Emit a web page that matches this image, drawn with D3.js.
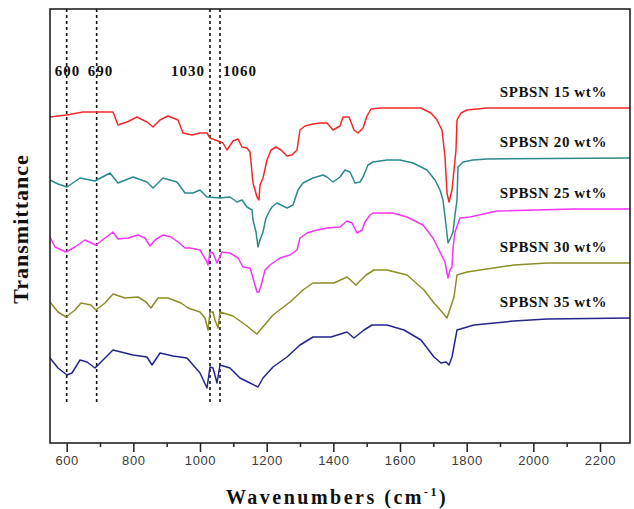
<!DOCTYPE html>
<html>
<head>
<meta charset="utf-8">
<script src="https://cdn.jsdelivr.net/npm/d3@7"></script>
<style>
  body { margin: 0; background: #fff; }
  svg { display: block; }
</style>
</head>
<body>
<div id="chart"></div>
<script>
// FTIR spectra (transmittance in arbitrary units, offset per sample)
var names = ["SPBSN 15 wt%", "SPBSN 20 wt%", "SPBSN 25 wt%", "SPBSN 30 wt%", "SPBSN 35 wt%"];
var colors = ["#f42828", "#2b8a8a", "#f535f5", "#8d8d26", "#25258f"];

var wn15 = [550,574,601,649,691,739,754,781,811,841,859,880,904,934,949,976,1000,1021,1030,1054,1069,1081,1099,1114,1126,1141,1150,1159,1171,1177,1180,1189,1201,1213,1228,1243,1261,1276,1291,1300,1315,1339,1360,1381,1399,1420,1429,1447,1462,1474,1489,1501,1513,1543,1663,1693,1711,1726,1735,1741,1747,1756,1768,1771,1783,1801,1861,2290];
var t15 = [326,327,328,331,331,331,318,321,326,321,316,323,327,323,310,308,310,310,305,302,300,293,302,304,296,295,291,260,246,243,258,265,283,293,296,293,287,288,293,313,317,319,320,320,313,317,326,326,313,310,315,327,334,335,335,330,323,313,286,250,241,253,293,323,330,333,335,335];

var wn20 = [550,574,601,640,685,730,754,799,841,859,889,931,955,979,1000,1021,1060,1090,1111,1126,1141,1156,1159,1168,1174,1180,1189,1198,1210,1216,1231,1261,1279,1294,1309,1339,1369,1381,1399,1420,1435,1450,1465,1480,1489,1504,1519,1561,1600,1639,1681,1705,1720,1729,1738,1744,1753,1759,1765,1771,1774,1789,1819,1861,2290];
var t20 = [263,259,256,265,262,270,260,266,261,255,265,261,250,250,253,246,245,246,241,243,236,233,223,211,196,203,211,225,233,236,240,235,238,253,260,265,268,266,261,266,273,271,260,261,266,278,281,283,283,280,273,263,253,243,218,200,206,211,228,243,276,281,283,284,285];

var wn25 = [550,565,598,625,655,688,715,739,754,784,814,835,850,865,889,913,934,955,970,1000,1021,1024,1030,1039,1051,1066,1090,1114,1129,1150,1159,1171,1177,1186,1195,1210,1240,1270,1291,1300,1321,1351,1381,1420,1441,1456,1471,1486,1495,1510,1519,1579,1621,1669,1699,1720,1735,1744,1750,1756,1759,1765,1780,1810,1891,2122,2290];
var t25 = [206,196,191,196,203,198,205,211,204,205,208,205,197,203,208,206,201,195,195,193,181,178,191,190,180,191,190,185,176,175,165,151,151,161,173,178,185,188,193,205,210,213,215,216,222,220,210,213,221,228,230,230,226,218,205,191,181,165,173,176,195,211,225,226,232,234,234];

var wn30 = [550,574,598,625,643,673,688,715,739,775,814,838,853,874,904,943,964,1000,1015,1024,1030,1039,1045,1054,1060,1099,1141,1159,1171,1186,1219,1270,1309,1339,1390,1402,1441,1468,1498,1522,1561,1621,1672,1702,1726,1741,1747,1762,1771,1801,1942,2041,2290];
var t30 = [141,131,126,133,140,138,133,140,149,145,146,141,135,145,145,140,135,131,125,113,131,131,123,115,131,127,117,112,109,115,128,141,153,160,160,160,166,158,168,173,173,168,153,140,131,125,131,146,168,171,178,180,180];

var wn35 = [550,574,601,616,640,661,685,739,799,841,856,880,919,961,1000,1021,1030,1039,1051,1060,1090,1120,1150,1174,1189,1219,1261,1300,1339,1393,1441,1462,1492,1516,1561,1612,1663,1702,1723,1738,1747,1756,1771,1822,1942,2041,2290];
var t35 = [85,75,68,70,83,81,75,93,88,86,78,90,87,85,70,55,76,75,60,78,75,65,60,56,65,76,86,98,106,106,111,105,113,118,118,113,103,86,80,81,78,86,113,118,122,124,125];

var peaks = [600, 690, 1030, 1060];
var xTicks = [600, 800, 1000, 1200, 1400, 1600, 1800, 2000, 2200];

var series = [[wn15, t15], [wn20, t20], [wn25, t25], [wn30, t30], [wn35, t35]].map(function(s, i) {
  return { name: names[i], color: colors[i], pts: s[0].map(function(w, j) { return [w, s[1][j]]; }) };
});

var W = 634, H = 509;
var margin = {top: 9, right: 4, bottom: 66, left: 50},
    width = W - margin.left - margin.right,
    height = H - margin.top - margin.bottom;

var svg = d3.select("#chart")
  .append("svg")
    .attr("width", W)
    .attr("height", H)
  .append("g")
    .attr("transform", "translate(" + margin.left + "," + margin.top + ")");

var x = d3.scaleLinear().domain([550, 2290]).range([0, width]);
var y = d3.scaleLinear().domain([0, 434]).range([height, 0]);

// dashed marker lines
svg.selectAll(".peak")
  .data(peaks)
  .enter()
  .append("line")
    .attr("x1", function(d) { return x(d); })
    .attr("x2", function(d) { return x(d); })
    .attr("y1", 0)
    .attr("y2", 393)
    .attr("stroke", "#111")
    .attr("stroke-width", 1.6)
    .attr("stroke-dasharray", "3,3");

var peakDx = [-12, -9, -39, 3];
svg.selectAll(".peaklabel")
  .data(peaks)
  .enter()
  .append("text")
    .attr("x", function(d, i) { return x(d) + peakDx[i]; })
    .attr("y", 67)
    .style("font-family", "'Liberation Serif', 'Times New Roman', serif")
    .style("font-weight", "bold")
    .style("font-size", "15px")
    .style("letter-spacing", "1px")
    .attr("fill", "#111")
    .text(function(d) { return d; });

// spectra
var line = d3.line()
  .x(function(d) { return x(d[0]); })
  .y(function(d) { return y(d[1]); });

svg.selectAll(".spec")
  .data(series)
  .enter()
  .append("path")
    .attr("d", function(d) { return line(d.pts); })
    .attr("fill", "none")
    .attr("stroke", function(d) { return d.color; })
    .attr("stroke-width", 1.5)
    .attr("stroke-linejoin", "round");

svg.selectAll(".name")
  .data(series)
  .enter()
  .append("text")
    .attr("x", 557)
    .attr("y", function(d) { return y(d.pts[d.pts.length - 1][1]) - 11; })
    .attr("text-anchor", "end")
    .style("font-family", "'Liberation Serif', 'Times New Roman', serif")
    .style("font-weight", "bold")
    .style("font-size", "15px")
    .style("letter-spacing", "0.6px")
    .attr("fill", "#111")
    .text(function(d) { return d.name; });

// frame
svg.append("rect")
  .attr("x", 0).attr("y", 0)
  .attr("width", width).attr("height", height)
  .attr("fill", "none")
  .attr("stroke", "#222")
  .attr("stroke-width", 1.6);

// X axis
var xAxis = svg.append("g")
  .attr("transform", "translate(0," + height + ")")
  .call(d3.axisBottom(x).tickValues(xTicks).tickSize(9).tickPadding(4).tickFormat(d3.format("d")));
xAxis.select(".domain").remove();
xAxis.selectAll("line").attr("stroke", "#222").attr("stroke-width", 1.5);
xAxis.selectAll("text")
  .attr("fill", "#3a3a3a")
  .style("font-family", "'Liberation Sans', Arial, sans-serif")
  .style("font-size", "13px")
  .style("letter-spacing", "0.6px");

svg.append("g")
  .attr("transform", "translate(0," + height + ")")
  .call(d3.axisBottom(x).tickValues(d3.range(700, 2300, 200)).tickSize(4).tickFormat(""))
  .call(function(g) { g.select(".domain").remove(); })
  .selectAll("line").attr("stroke", "#222").attr("stroke-width", 1.5);

// axis titles
var xt = svg.append("text")
  .attr("x", width / 2 - 3)
  .attr("y", height + 61)
  .attr("text-anchor", "middle")
  .style("font-family", "'Liberation Serif', 'Times New Roman', serif")
  .style("font-weight", "bold")
  .style("font-size", "20px")
  .style("letter-spacing", "2.5px")
  .attr("fill", "#111");
xt.append("tspan").text("Wavenumbers (cm");
xt.append("tspan").attr("dy", -8).style("font-size", "12px").text("-1");
xt.append("tspan").attr("dy", 8).text(")");

svg.append("text")
  .attr("transform", "translate(-22," + 220 + ")rotate(-90)")
  .attr("text-anchor", "middle")
  .style("font-family", "'Liberation Serif', 'Times New Roman', serif")
  .style("font-weight", "bold")
  .style("font-size", "22px")
  .style("letter-spacing", "1px")
  .attr("fill", "#111")
  .text("Transmittance");
</script>
</body>
</html>
